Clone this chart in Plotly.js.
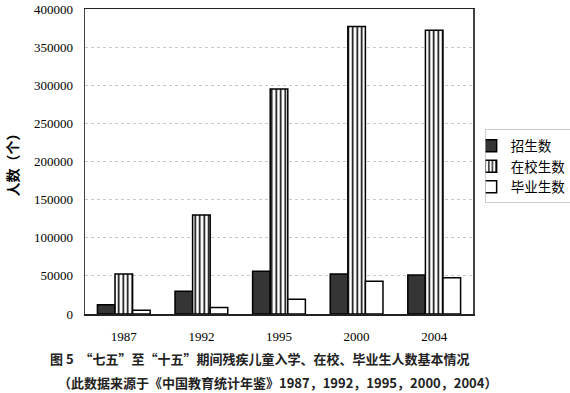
<!DOCTYPE html>
<html>
<head>
<meta charset="utf-8">
<script src="https://cdn.plot.ly/plotly-3.0.1.min.js"></script>
<style>html,body{margin:0;padding:0;background:#fff;}#chart{width:570px;height:393px;}</style>
</head>
<body>
<div id="chart"></div>
<script>
var years = ['1987', '1992', '1995', '2000', '2004'];
var enrolled = [12000, 30000, 56000, 52500, 51000];      // 招生数
var inSchool = [52500, 130000, 295000, 377000, 372000];  // 在校生数
var graduates = [5000, 8500, 19500, 43000, 47500];       // 毕业生数
var seriesNames = ['招生数', '在校生数', '毕业生数'];
var yTicks = [0, 50000, 100000, 150000, 200000, 250000, 300000, 350000, 400000];

var serif = '"Liberation Serif", "DejaVu Serif", serif';
var cjk = '"Noto Sans CJK SC", sans-serif';

var traces = [
  {type: 'bar', x: years, y: enrolled, name: seriesNames[0],
   marker: {color: '#353535', line: {color: '#000', width: 1.5}}},
  {type: 'bar', x: years, y: inSchool, name: seriesNames[1],
   marker: {color: '#fff', line: {color: '#000', width: 1.5},
            pattern: {shape: '|', fgcolor: '#000', bgcolor: '#fff', size: 4.5, solidity: 0.35}}},
  {type: 'bar', x: years, y: graduates, name: seriesNames[2],
   marker: {color: '#fff', line: {color: '#000', width: 1.5}}}
];

var layout = {
  width: 570, height: 393,
  margin: {l: 85, r: 97, t: 9, b: 79, autoexpand: false},
  paper_bgcolor: '#fff', plot_bgcolor: '#fff',
  barmode: 'group', bargap: 0.32, bargroupgap: 0,
  showlegend: true,
  legend: {x: 1.03, y: 0.605, xanchor: 'left', yanchor: 'top',
           bordercolor: '#ccc', borderwidth: 1, bgcolor: 'rgba(0,0,0,0)',
           font: {family: cjk, size: 13.5, color: '#000'},
           tracegroupgap: 0, itemwidth: 30, indentation: -15},
  xaxis: {type: 'category', showgrid: false, ticks: '', ticklabelstandoff: 10,
          tickfont: {family: serif, size: 13, color: '#000'},
          showline: true, linecolor: '#222', linewidth: 1.5, mirror: true, zeroline: false},
  yaxis: {range: [0, 400000], tickvals: yTicks, ticktext: yTicks.map(String),
          ticks: '', ticklabelstandoff: 8,
          tickfont: {family: serif, size: 13, color: '#000'},
          showgrid: true, gridcolor: '#c8c8c8', griddash: 'dot', gridwidth: 1,
          showline: true, linecolor: '#444', linewidth: 1.5, mirror: true, zeroline: false,
          title: {text: '<b>人数（个）</b>', font: {family: cjk, size: 14, color: '#000'}, standoff: 12}},
  annotations: [
    {xref: 'paper', yref: 'paper', x: 0.45, y: -0.1475, xanchor: 'center', yanchor: 'middle', showarrow: false,
     text: '<b>图 5  “七五”至“十五”期间残疾儿童入学、在校、毕业生人数基本情况</b>',
     font: {family: cjk, size: 13, color: '#222'}},
    {xref: 'paper', yref: 'paper', x: 0.495, y: -0.223, xanchor: 'center', yanchor: 'middle', showarrow: false,
     text: '<b>（此数据来源于《中国教育统计年鉴》1987，1992，1995，2000，2004）</b>',
     font: {family: cjk, size: 13, color: '#222'}}
  ]
};

Plotly.newPlot('chart', traces, layout, {displayModeBar: false, staticPlot: true});
</script>
</body>
</html>
